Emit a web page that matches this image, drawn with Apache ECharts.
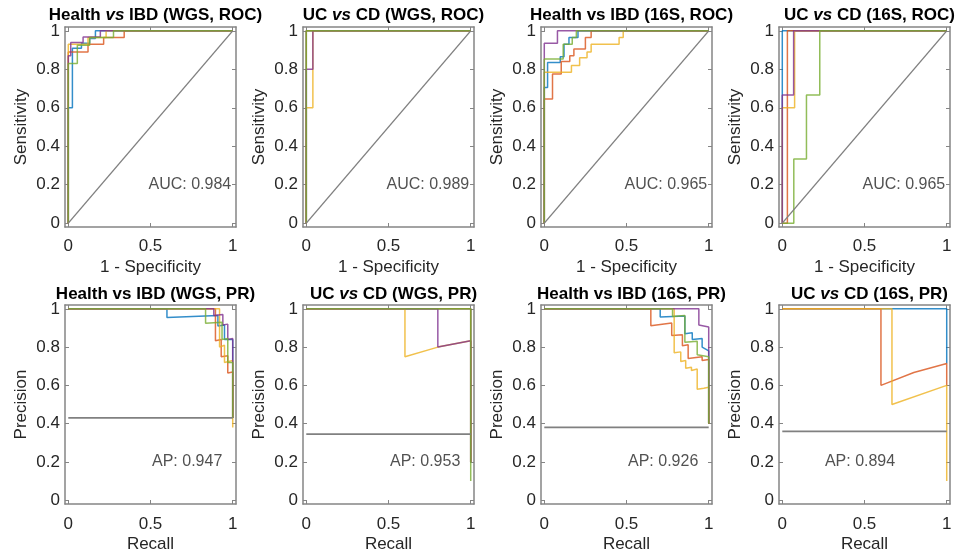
<!DOCTYPE html>
<html><head><meta charset="utf-8">
<script src="https://cdn.jsdelivr.net/npm/echarts@6/dist/echarts.min.js"></script>
<style>html,body{margin:0;padding:0;background:#fff}#c{width:955px;height:557px}</style>
</head><body><div id="c"></div><script>
// ---------- data ----------
const colorNames = ['blue', 'orange', 'yellow', 'purple', 'green'];
const rocXTicks = [0, 0.5, 1];
const yTicks = [0, 0.2, 0.4, 0.6, 0.8, 1];

const panelTitles = [
  '{b|Health }{i|vs}{b| IBD (WGS, ROC)}',
  '{b|UC }{i|vs}{b| CD (WGS, ROC)}',
  '{b|Health vs IBD (16S, ROC)}',
  '{b|UC }{i|vs}{b| CD (16S, ROC)}',
  '{b|Health vs IBD (WGS, PR)}',
  '{b|UC }{i|vs}{b| CD (WGS, PR)}',
  '{b|Health vs IBD (16S, PR)}',
  '{b|UC }{i|vs}{b| CD (16S, PR)}'
];
const rocXName = '1 - Specificity', rocYName = 'Sensitivity';
const prXName = 'Recall', prYName = 'Precision';
const rocAUC = ['0.984', '0.989', '0.965', '0.965'];
const prAP = ['0.947', '0.953', '0.926', '0.894'];

// ROC curves: [blue, orange, yellow, purple, green]
const rocHealthWGS = [
  [[0,0],[0,0.6],[0.025,0.6],[0.025,0.91],[0.08,0.91],[0.08,0.935],[0.13,0.935],[0.13,0.96],[0.165,0.96],[0.165,1],[1,1]],
  [[0,0],[0,0.89],[0.12,0.89],[0.12,0.93],[0.215,0.93],[0.215,0.965],[0.34,0.965],[0.34,1],[1,1]],
  [[0,0],[0,0.93],[0.12,0.93],[0.12,0.965],[0.23,0.965],[0.23,1],[1,1]],
  [[0,0],[0,0.87],[0.015,0.87],[0.015,0.94],[0.09,0.94],[0.09,0.968],[0.195,0.968],[0.195,1],[1,1]],
  [[0,0],[0,0.83],[0.055,0.83],[0.055,0.925],[0.13,0.925],[0.13,0.965],[0.275,0.965],[0.275,1],[1,1]]
];
const rocUcCdWGS = [
  [[0,0],[0,1],[1,1]],
  [[0,0],[0,1],[1,1]],
  [[0,0],[0,0.6],[0.04,0.6],[0.04,1],[1,1]],
  [[0,0],[0,0.8],[0.04,0.8],[0.04,1],[1,1]],
  [[0,0],[0,1],[1,1]]
];
const rocHealth16S = [
  [[0,0],[0,0.705],[0.02,0.705],[0.02,0.835],[0.097,0.835],[0.097,0.865],[0.12,0.865],[0.12,0.93],[0.15,0.93],[0.15,0.965],[0.205,0.965],[0.205,1],[1,1]],
  [[0,0],[0,0.645],[0.05,0.645],[0.05,0.775],[0.103,0.775],[0.103,0.84],[0.155,0.84],[0.155,0.87],[0.18,0.87],[0.18,0.905],[0.25,0.905],[0.25,0.965],[0.285,0.965],[0.285,1],[1,1]],
  [[0,0],[0,0.785],[0.165,0.785],[0.165,0.82],[0.215,0.82],[0.215,0.86],[0.26,0.86],[0.26,0.89],[0.285,0.89],[0.285,0.93],[0.455,0.93],[0.455,0.965],[0.48,0.965],[0.48,1],[1,1]],
  [[0,0],[0,0.935],[0.08,0.935],[0.08,1],[1,1]],
  [[0,0],[0,0.853],[0.115,0.853],[0.115,0.93],[0.17,0.93],[0.17,0.965],[0.195,0.965],[0.195,1],[1,1]]
];
const rocUcCd16S = [
  [[0,0],[0,1],[1,1]],
  [[0,0],[0.031,0],[0.031,1],[1,1]],
  [[0,0],[0,0.6],[0.075,0.6],[0.075,1],[1,1]],
  [[0,0],[0,0.667],[0.069,0.667],[0.069,1],[1,1]],
  [[0,0],[0.07,0],[0.07,0.333],[0.147,0.333],[0.147,0.667],[0.228,0.667],[0.228,1],[1,1]]
];

// PR curves: [blue, orange, yellow, purple, green]
const prHealthWGS = [
  [[0,1],[0.6,1],[0.6,0.955],[0.91,0.965],[0.91,0.91],[0.95,0.915],[0.95,0.84],[1,0.84],[1,0.43]],
  [[0,1],[0.895,1],[0.895,0.833],[0.93,0.84],[0.93,0.75],[0.97,0.755],[0.97,0.665],[1,0.67],[1,0.43]],
  [[0,1],[0.92,1],[0.92,0.8],[0.95,0.81],[0.95,0.72],[1,0.73],[1,0.38]],
  [[0,1],[0.885,1],[0.885,0.965],[0.94,0.97],[0.94,0.915],[0.97,0.92],[0.97,0.84],[1,0.845],[1,0.43]],
  [[0,1],[0.835,1],[0.835,0.925],[0.935,0.93],[0.935,0.84],[0.97,0.845],[0.97,0.72],[1,0.72],[1,0.43]]
];
const prUcCdWGS = [
  [[0,1],[1,1],[1,0.2]],
  [[0,1],[1,1],[1,0.2]],
  [[0,1],[0.6,1],[0.6,0.75],[0.8,0.8],[1,0.833],[1,0.2]],
  [[0,1],[0.8,1],[0.8,0.8],[1,0.833],[1,0.2]],
  [[0,1],[1,1],[1,0.1]]
];
const prHealth16S = [
  [[0,1],[0.705,1],[0.705,0.957],[0.855,0.962],[0.855,0.87],[0.9,0.875],[0.9,0.84],[0.96,0.845],[0.96,0.8],[1,0.78],[1,0.4]],
  [[0,1],[0.648,1],[0.648,0.911],[0.775,0.926],[0.775,0.86],[0.84,0.865],[0.84,0.807],[0.875,0.812],[0.875,0.74],[0.96,0.75],[0.96,0.73],[1,0.735],[1,0.4]],
  [[0,1],[0.79,1],[0.79,0.77],[0.83,0.775],[0.83,0.725],[0.86,0.73],[0.86,0.69],[0.895,0.695],[0.895,0.678],[0.93,0.685],[0.93,0.58],[0.97,0.585],[0.97,0.575],[1,0.59],[1,0.4]],
  [[0,1],[0.94,1],[0.94,0.915],[1,0.905],[1,0.4]],
  [[0,1],[0.78,1],[0.78,0.96],[0.855,0.965],[0.855,0.825],[0.93,0.83],[0.93,0.76],[1,0.75],[1,0.4]]
];
const prUcCd16S = [
  [[0,1],[1,1],[1,0.714]],
  [[0,1],[0.6,1],[0.6,0.6],[0.8,0.667],[1,0.714],[1,0.6]],
  [[0,1],[0.667,1],[0.667,0.5],[1,0.6],[1,0.1]],
  null,
  null
];
const rocDiagonal = [[0,0],[1,1]];
const prBaselines = [0.43, 0.345, 0.38, 0.36];

// ---------- style / layout ----------
const FONT = '"Liberation Sans", Arial, Helvetica, sans-serif';
const COLORS = {blue:'#0072BD', orange:'#D95319', yellow:'#EDB120', purple:'#7E2F8E', green:'#77AC30'};
const BOX = '#858585';
const TXT = '#262626';
const LEFTS = [65, 303, 541, 779];
const W = 171;
const TOPS = [27, 305];
const HS = [200, 199];
const TITLE_TOPS = [2, 281];
const XLABEL_MARGIN = [11, 12];
const XNAME_GAP = [32, 32];

const panels = [
  {kind:'roc', curves: rocHealthWGS}, {kind:'roc', curves: rocUcCdWGS},
  {kind:'roc', curves: rocHealth16S}, {kind:'roc', curves: rocUcCd16S},
  {kind:'pr', curves: prHealthWGS}, {kind:'pr', curves: prUcCdWGS},
  {kind:'pr', curves: prHealth16S}, {kind:'pr', curves: prUcCd16S}
];
const annoPrX = [0.5, 0.5, 0.5, 0.25];

const fmt = v => String(+(+v).toFixed(2));
const grid = [], xAxis = [], yAxis = [], series = [], title = [];

panels.forEach((p, i) => {
  const row = i < 4 ? 0 : 1, col = i % 4;
  grid.push({left: LEFTS[col], top: TOPS[row], width: W, height: HS[row], containLabel: false});
  const xT = rocXTicks;
  const isRoc = p.kind === 'roc';
  const lineStyle = {color: BOX, width: 1.5};
  const tick = vals => ({show: true, inside: true, length: 4, customValues: vals, lineStyle: {color: BOX, width: 1}});
  xAxis.push({
    gridIndex: i, type: 'value', min: -0.02, max: 1.02, position: 'bottom',
    axisLine: {onZero: false, lineStyle}, axisTick: tick(xT),
    axisLabel: {customValues: xT, formatter: fmt, margin: XLABEL_MARGIN[row], fontSize: 17, color: TXT, fontFamily: FONT},
    splitLine: {show: false},
    name: isRoc ? rocXName : prXName, nameLocation: 'middle', nameGap: XNAME_GAP[row],
    nameTextStyle: {fontSize: 17, color: TXT, fontFamily: FONT}
  });
  xAxis.push({
    gridIndex: i, type: 'value', min: -0.02, max: 1.02, position: 'top',
    axisLine: {onZero: false, lineStyle}, axisTick: tick(xT),
    axisLabel: {show: false}, splitLine: {show: false}
  });
  yAxis.push({
    gridIndex: i, type: 'value', min: -0.02, max: 1.02, position: 'left',
    axisLine: {onZero: false, lineStyle}, axisTick: tick(yTicks),
    axisLabel: {customValues: yTicks, formatter: fmt, margin: 5, fontSize: 17, color: TXT, fontFamily: FONT},
    splitLine: {show: false},
    name: isRoc ? rocYName : prYName, nameLocation: 'middle', nameGap: 35,
    nameTextStyle: {fontSize: 17, color: TXT, fontFamily: FONT}
  });
  yAxis.push({
    gridIndex: i, type: 'value', min: -0.02, max: 1.02, position: 'right',
    axisLine: {onZero: false, lineStyle}, axisTick: tick(yTicks),
    axisLabel: {show: false}, splitLine: {show: false}
  });

  title.push({
    text: panelTitles[i], left: LEFTS[col] + W / 2, top: TITLE_TOPS[row], textAlign: 'center',
    textStyle: {
      rich: {
        b: {fontSize: 17, fontWeight: 'bold', color: '#000', fontFamily: FONT, lineHeight: 17},
        i: {fontSize: 17, fontWeight: 'bold', fontStyle: 'italic', color: '#000', fontFamily: FONT, lineHeight: 17}
      }
    }
  });

  const ax = {xAxisIndex: 2 * i, yAxisIndex: 2 * i};
  p.curves.forEach((d, k) => {
    if (!d) return;
    series.push(Object.assign({
      type: 'line', data: d, showSymbol: false, symbol: 'none', silent: true,
      lineStyle: {color: COLORS[colorNames[k]], width: 1.5, opacity: 0.8}, z: 2
    }, ax));
  });
  const ref = isRoc ? rocDiagonal : [[0, prBaselines[col]], [1, prBaselines[col]]];
  series.push(Object.assign({
    type: 'line', data: ref, showSymbol: false, symbol: 'none', silent: true,
    lineStyle: {color: '#808080', width: isRoc ? 1.4 : 1.8}, z: 3
  }, ax));
  series.push(Object.assign({
    type: 'scatter', silent: true, symbolSize: 1, itemStyle: {color: 'rgba(0,0,0,0)'},
    data: [[isRoc ? 1 : annoPrX[col], 0.2]],
    label: {
      show: true, position: isRoc ? 'left' : 'right', distance: 1,
      formatter: isRoc ? 'AUC: ' + rocAUC[col] : 'AP: ' + prAP[col],
      fontSize: 16, color: TXT, fontFamily: FONT
    }, z: 4
  }, ax));
});

const chart = echarts.init(document.getElementById('c'), null, {renderer: 'canvas'});
chart.setOption({animation: false, backgroundColor: '#fff', title, grid, xAxis, yAxis, series});
</script></body></html>
